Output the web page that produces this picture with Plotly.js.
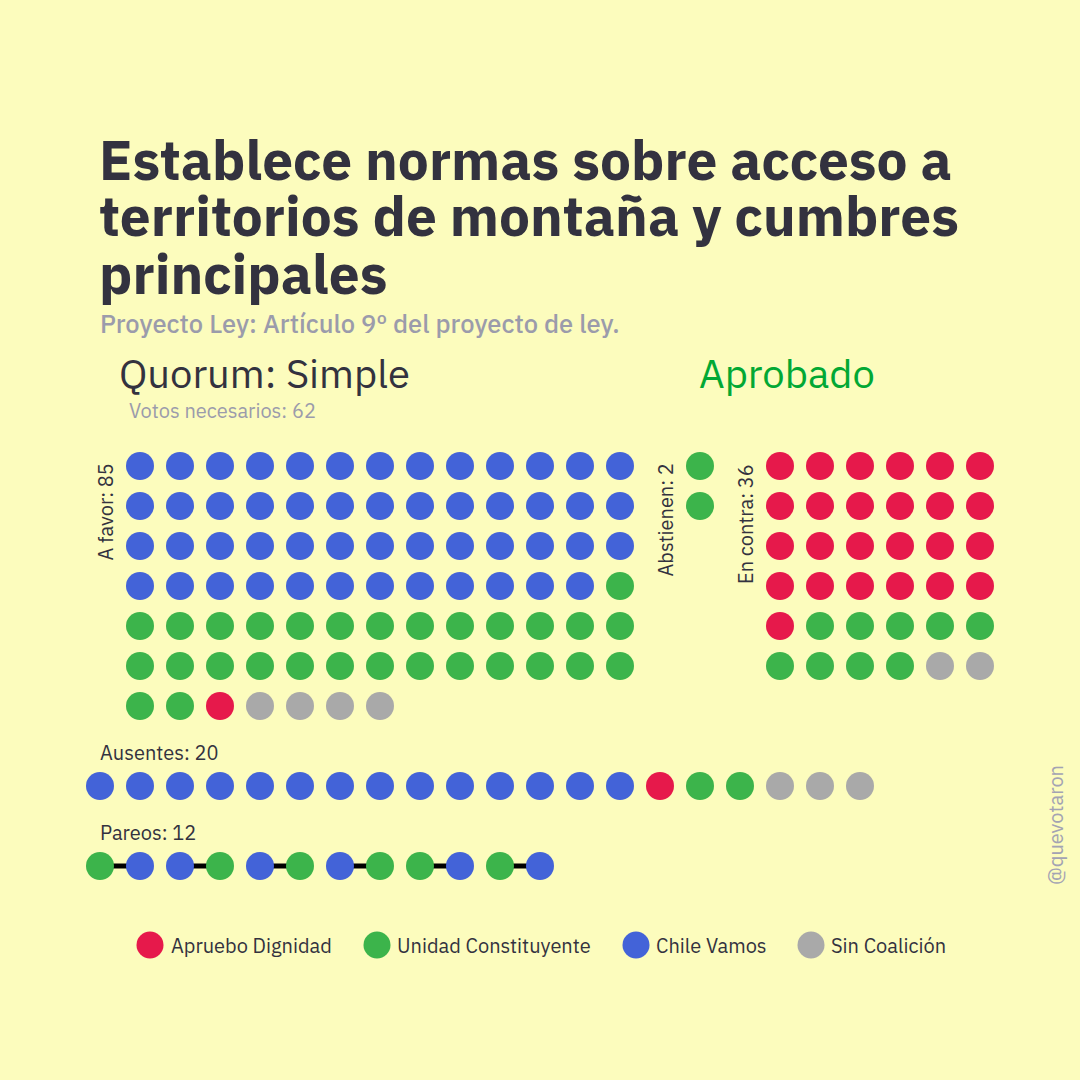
<!DOCTYPE html>
<html><head><meta charset="utf-8">
<script src="https://cdn.plot.ly/plotly-3.0.1.min.js"></script>
<style>html,body{margin:0;padding:0;background:#fcfcbd;}</style>
</head><body><div id="chart" style="width:1080px;height:1080px;"></div>
<script>
// ---------- DATA ----------
const coalitionKeys = ['AD', 'UC', 'CV', 'SC'];
const coalitionNames = ['Apruebo Dignidad', 'Unidad Constituyente', 'Chile Vamos', 'Sin Coalición'];

const favorParties = ['CV', 'UC', 'AD', 'SC'];
const favorCounts = [51, 29, 1, 4];
const abstParties = ['UC'];
const abstCounts = [2];
const contraParties = ['AD', 'UC', 'SC'];
const contraCounts = [25, 9, 2];
const ausentesParties = ['CV', 'AD', 'UC', 'SC'];
const ausentesCounts = [14, 1, 2, 3];
const pareosPairs = [['UC', 'CV'], ['CV', 'UC'], ['CV', 'UC'], ['CV', 'UC'], ['UC', 'CV'], ['UC', 'CV']];

const titleLines = ['Establece normas sobre acceso a', 'territorios de montaña y cumbres', 'principales'];
const subtitleText = 'Proyecto Ley: Artículo 9º del proyecto de ley.';
const quorumText = 'Quorum: Simple';
const resultText = 'Aprobado';
const votosNecesarios = 62;
const handleText = '@quevotaron';

// ---------- STYLE ----------
const coalitionColors = { AD: '#e6194b', UC: '#3cb44b', CV: '#4363d8', SC: '#a9a9a9' };
const BG = '#fcfcbd';
const DARK = '#33323f';
const GREY = '#9b9bab';
const FONT = '"IBM Plex Sans", Roboto, "Noto Sans", sans-serif';
const DOT = 28;
const SMALL = 20;

// grid: pixel = origin + pitch*index
const PITCH = 40, X0 = 100, Y0 = 466, W = 1080, H = 1080;
const xRange = [(0 - X0) / PITCH, (W - X0) / PITCH];
const yRange = [(H - Y0) / PITCH, (0 - Y0) / PITCH];
const colOf = px => (px - X0) / PITCH;
const rowOf = py => (py - Y0) / PITCH;

// block placement (grid cells)
const blocks = [
  { parties: favorParties, counts: favorCounts, col0: 1, row0: 0, ncols: 13 },
  { parties: abstParties, counts: abstCounts, col0: 15, row0: 0, ncols: 1 },
  { parties: contraParties, counts: contraCounts, col0: 17, row0: 0, ncols: 6 },
  { parties: ausentesParties, counts: ausentesCounts, col0: 0, row0: 8, ncols: 30 }
];
const pareosRow = 10;

const sum = a => a.reduce((s, v) => s + v, 0);

const pts = {}; coalitionKeys.forEach(k => pts[k] = { x: [], y: [] });
blocks.forEach(b => {
  let i = 0;
  b.parties.forEach((p, j) => {
    for (let n = 0; n < b.counts[j]; n++, i++) {
      pts[p].x.push(b.col0 + (i % b.ncols));
      pts[p].y.push(b.row0 + Math.floor(i / b.ncols));
    }
  });
});
const lineX = [], lineY = [];
pareosPairs.forEach((pair, k) => {
  pair.forEach((p, m) => {
    const c = 2 * k + m;
    pts[p].x.push(c); pts[p].y.push(pareosRow);
    lineX.push(c); lineY.push(pareosRow);
  });
  lineX.push(null); lineY.push(null);
});

const traces = [];
traces.push({ type: 'scatter', mode: 'lines', x: lineX, y: lineY, line: { color: '#000', width: 5 },
  hoverinfo: 'skip', showlegend: false });
coalitionKeys.forEach((k, i) => {
  traces.push({ type: 'scatter', mode: 'markers', name: coalitionNames[i], x: pts[k].x, y: pts[k].y,
    marker: { size: DOT, color: coalitionColors[k], line: { width: 0 } }, showlegend: false });
});

// legend (custom)
const legendPx = [150, 377, 636, 811], legendPy = 945;
traces.push({ type: 'scatter', mode: 'markers', x: legendPx.map(colOf), y: legendPx.map(() => rowOf(legendPy)),
  marker: { size: 27, color: coalitionKeys.map(k => coalitionColors[k]) }, hoverinfo: 'skip', showlegend: false });

const P = (px, py) => ({ x: px / W, y: 1 - py / H, xref: 'paper', yref: 'paper' });
const ann = (px, py, text, size, color, opts) => Object.assign(P(px, py),
  { text, showarrow: false, font: { family: FONT, size, color }, xanchor: 'left', yanchor: 'middle' }, opts || {});

const annotations = [];
const titleY = [159, 216, 273];
titleLines.forEach((t, i) => annotations.push(ann(97, titleY[i], '<b>' + t + '</b>', 55, DARK)));
annotations.push(Object.assign(ann(98, 323, subtitleText, 25.5, GREY), { font: { family: FONT, size: 25.5, color: GREY, weight: 500 } }));
annotations.push(ann(117, 373, quorumText, 40, DARK));
annotations.push(ann(697, 373, resultText, 40, '#02a834'));
annotations.push(ann(127, 410, 'Votos necesarios: ' + votosNecesarios, SMALL, GREY));
annotations.push(ann(105, 462, 'A favor: ' + sum(favorCounts), SMALL, DARK, { textangle: -90, xanchor: 'center', yanchor: 'top' }));
annotations.push(ann(665, 462, 'Abstienen: ' + sum(abstCounts), SMALL, DARK, { textangle: -90, xanchor: 'center', yanchor: 'top' }));
annotations.push(ann(745, 462, 'En contra: ' + sum(contraCounts), SMALL, DARK, { textangle: -90, xanchor: 'center', yanchor: 'top' }));
annotations.push(ann(98, 752, 'Ausentes: ' + sum(ausentesCounts), SMALL, DARK));
annotations.push(ann(98, 832, 'Pareos: ' + (pareosPairs.length * 2), SMALL, DARK));
const legendTextPx = [169, 395, 654, 829];
coalitionNames.forEach((n, i) => annotations.push(ann(legendTextPx[i], legendPy, n, SMALL, DARK)));
annotations.push(ann(1055, 825, handleText, SMALL, '#a3a3b3', { textangle: -90, xanchor: 'center', yanchor: 'middle' }));

const layout = {
  width: W, height: H,
  margin: { l: 0, r: 0, t: 0, b: 0, pad: 0 },
  paper_bgcolor: BG, plot_bgcolor: BG,
  xaxis: { range: xRange, visible: false, fixedrange: true },
  yaxis: { range: yRange, visible: false, fixedrange: true },
  showlegend: false,
  annotations,
  font: { family: FONT, color: DARK }
};
Plotly.newPlot('chart', traces, layout, { displayModeBar: false, staticPlot: true });
</script></body></html>
